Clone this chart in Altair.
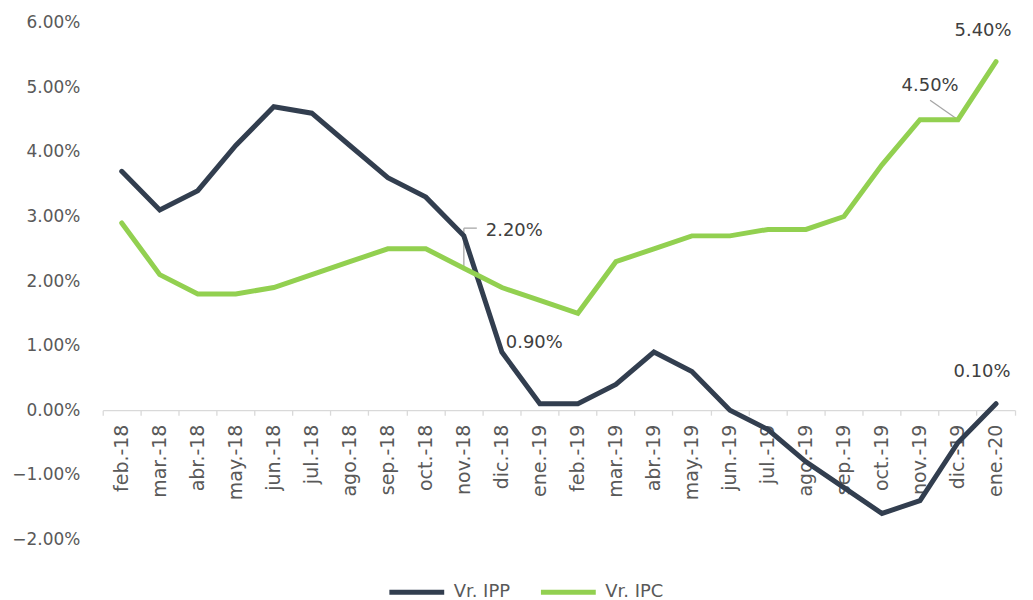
import altair as alt
import pandas as pd

months = ["feb.-18", "mar.-18", "abr.-18", "may.-18", "jun.-18", "jul.-18",
          "ago.-18", "sep.-18", "oct.-18", "nov.-18", "dic.-18", "ene.-19",
          "feb.-19", "mar.-19", "abr.-19", "may.-19", "jun.-19", "jul.-19",
          "ago.-19", "sep.-19", "oct.-19", "nov.-19", "dic.-19", "ene.-20"]
ipp = [3.7, 3.1, 3.4, 4.1, 4.7, 4.6, 4.1, 3.6, 3.3, 2.7, 0.9, 0.1,
       0.1, 0.4, 0.9, 0.6, 0.0, -0.3, -0.8, -1.2, -1.6, -1.4, -0.5, 0.1]
ipc = [2.9, 2.1, 1.8, 1.8, 1.9, 2.1, 2.3, 2.5, 2.5, 2.2, 1.9, 1.7,
       1.5, 2.3, 2.5, 2.7, 2.7, 2.8, 2.8, 3.0, 3.8, 4.5, 4.5, 5.4]
series_names = ["Vr. IPP", "Vr. IPC"]
series_colors = ["#323E4F", "#92D050"]
y_ticks = [-2, -1, 0, 1, 2, 3, 4, 5, 6]

# data labels: (series, month, value, text)
label_series = ["Vr. IPC", "Vr. IPP", "Vr. IPC", "Vr. IPC", "Vr. IPP"]
label_months = ["nov.-18", "dic.-18", "dic.-19", "ene.-20", "ene.-20"]
label_values = [2.2, 0.9, 4.5, 5.4, 0.1]
label_texts = ["2.20%", "0.90%", "4.50%", "5.40%", "0.10%"]
label_dx = [22, 4, -28, -13, -14]
label_dy = [-37, -9, -34, -31, -32]
label_align = ["left", "left", "center", "center", "center"]

# leader lines
leader_months = ["nov.-18", "dic.-19"]
leader_from = [2.2, 4.5]
leader_to = [2.82, 4.8]

FONT = "DejaVu Sans"
FS = 18

df = pd.DataFrame({
    "month": months * 2,
    "value": ipp + ipc,
    "series": [series_names[0]] * len(months) + [series_names[1]] * len(months),
})
labels = pd.DataFrame({"series": label_series, "month": label_months,
                       "value": label_values, "text": label_texts})
leaders = pd.DataFrame({"month": leader_months, "y1": leader_from, "y2": leader_to})

xscale = alt.Scale(domain=months, type="band", paddingInner=0, paddingOuter=0)
yscale = alt.Scale(domain=[-2, 6], nice=False, zero=False)

x_enc = alt.X("month:N", scale=xscale, sort=months, title=None,
              axis=alt.Axis(orient="bottom", offset=-129.5, labelAngle=270,
                            labelAlign="right", labelBaseline="middle",
                            labelPadding=9, labelFont=FONT, labelFontSize=19,
                            labelColor="#595959", domainColor="#D9D9D9",
                            domainWidth=1.3, tickColor="#D9D9D9", tickWidth=1.3,
                            tickSize=5, bandPosition=1, tickExtra=True,
                            grid=False))
y_enc = alt.Y("value:Q", scale=yscale, title=None,
              axis=alt.Axis(values=y_ticks, labelExpr="format(datum.value, '.2f') + '%'",
                            domain=False, ticks=False, grid=False, labelPadding=23,
                            labelFont=FONT, labelFontSize=17, labelColor="#595959"))

lines = alt.Chart(df).mark_line(strokeWidth=5, strokeJoin="miter", strokeCap="round").encode(
    x=x_enc, y=y_enc,
    color=alt.Color("series:N", scale=alt.Scale(domain=series_names, range=series_colors),
                    sort=series_names,
                    legend=alt.Legend(title=None, orient="none", direction="horizontal",
                                      legendX=285, legendY=541, symbolType="stroke",
                                      symbolSize=3025, symbolStrokeWidth=5,
                                      labelFont=FONT, labelFontSize=FS,
                                      labelColor="#595959", labelOffset=7,
                                      columnPadding=20)),
    order=alt.Order("series_order:Q"),
).transform_calculate(series_order="datum.series == 'Vr. IPP' ? 0 : 1")

leader_v = alt.Chart(leaders.iloc[[0]]).mark_rule(color="#A6A6A6", strokeWidth=1.3).encode(
    x=alt.X("month:N", scale=xscale, sort=months),
    y=alt.Y("y1:Q", scale=yscale), y2="y2:Q")
leader_h = alt.Chart(leaders.iloc[[0]]).mark_rule(color="#A6A6A6", strokeWidth=1.3, x2Offset=13).encode(
    x=alt.X("month:N", scale=xscale, sort=months), x2="month:N",
    y=alt.Y("y2:Q", scale=yscale))
leader_d = alt.Chart(leaders.iloc[[1]]).mark_rule(color="#A6A6A6", strokeWidth=1.3, x2Offset=-28).encode(
    x=alt.X("month:N", scale=xscale, sort=months), x2="month:N",
    y=alt.Y("y1:Q", scale=yscale), y2="y2:Q")

text_layers = []
for i in range(len(label_texts)):
    text_layers.append(
        alt.Chart(labels.iloc[[i]]).mark_text(
            dx=label_dx[i], dy=label_dy[i], align=label_align[i], baseline="middle",
            font=FONT, fontSize=FS, color="#404040").encode(
            x=alt.X("month:N", scale=xscale, sort=months),
            y=alt.Y("value:Q", scale=yscale), text="text:N"))

chart = alt.layer(leader_v, leader_h, leader_d, lines, *text_layers).properties(
    width=915, height=518,
    background="white",
    autosize=alt.AutoSizeParams(type="none"),
    padding={"left": 95, "top": 14, "right": 10, "bottom": 60},
).configure_view(stroke=None)

chart.save("out.html", embed_options={"renderer": "svg", "actions": False})
